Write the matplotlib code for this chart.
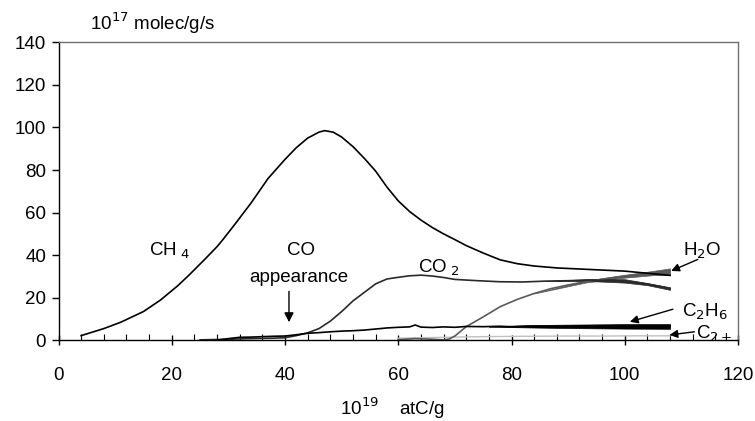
import matplotlib
matplotlib.use("Agg")
import matplotlib.pyplot as plt
from matplotlib.ticker import MultipleLocator

plt.rcParams['font.family'] = ['Liberation Sans', 'DejaVu Sans']

# values (x in 1e19 atC/g, y in 1e17 molec/g/s)
ch4_x = [4, 8, 11, 15, 18, 21, 23, 26, 28, 29, 31, 34, 37, 40, 42, 44, 46, 47,
         48.5, 50, 52, 54, 56, 58, 60, 62, 64, 66, 68, 70, 72, 75, 78, 81, 84,
         88, 92, 96, 100, 104, 108]
ch4_y = [2.2, 5.5, 8.5, 13.5, 18.9, 25.5, 30.5, 38.5, 44, 47.2, 54, 64.5, 76,
         85, 90.5, 95, 97.8, 98.5, 97.8, 95.5, 91, 85.5, 79.5, 72, 65.5, 60.5,
         56.5, 53, 50, 47.3, 44.5, 41, 37.8, 36, 34.9, 34, 33.5, 33, 32.5,
         31.5, 30.5]

co2_x = [25, 30, 34, 38, 40, 42, 44, 46, 48, 50, 52, 54, 56, 58, 60, 62, 64, 66,
         68, 70, 74, 78, 82, 86, 90, 94, 98, 102, 104, 106, 108]
co2_y = [0.2, 0.5, 0.8, 1.0, 1.2, 2.2, 3.5, 5.5, 9.0, 13.5, 18.5, 22.5, 26.5,
         28.8, 29.6, 30.3, 30.6, 30.2, 29.5, 28.6, 28.0, 27.5, 27.4, 27.8, 28.0,
         28.3, 28.0, 27.2, 26.4, 25.4, 24.3]

h2o_x = [60, 63, 66, 68, 69, 70, 72, 75, 78, 81, 84, 87, 90, 93, 96, 99, 102,
         105, 108]
h2o_y = [0.3, 0.8, 0.5, 0.2, 0.6, 2.0, 6.4, 11.0, 15.8, 19.2, 22.0, 24.3, 26.0,
         27.5, 28.7, 29.8, 30.8, 31.6, 32.2]

c2h6_x = [28, 30, 32, 34, 36, 38, 40, 42, 44, 46, 48, 50, 52, 54, 56, 58, 60,
          62, 63, 64, 66, 68, 70, 72, 75, 78, 80, 84, 88, 92, 96, 100, 104, 108]
c2h6_y = [0.0, 0.8, 1.4, 1.5, 1.7, 1.9, 2.0, 2.6, 3.3, 3.6, 4.0, 4.3, 4.5, 4.8,
          5.3, 5.8, 6.1, 6.3, 7.2, 6.2, 6.0, 6.3, 6.1, 6.5, 6.4, 6.6, 6.3, 6.6,
          6.5, 6.7, 6.5, 6.6, 6.4, 6.5]

c2p_x = [60, 66, 72, 78, 84, 90, 96, 102, 108]
c2p_y = [1.0, 1.3, 1.6, 1.8, 1.9, 2.0, 2.0, 2.1, 2.1]

# noise envelopes seen at the right end of the traces
c2h6_bx = [76, 84, 92, 100, 108]
c2h6_lo = [6.4, 6.0, 5.7, 5.5, 5.4]
c2h6_hi = [6.6, 7.2, 7.4, 7.6, 7.6]
h2o_bx = [84, 93, 99, 105, 108]
h2o_lo = [22.0, 27.1, 29.2, 30.6, 30.6]
h2o_hi = [22.0, 27.9, 30.4, 32.6, 33.8]
co2_bx = [86, 94, 100, 104, 108]
co2_lo = [27.8, 27.8, 27.1, 25.9, 23.7]
co2_hi = [27.8, 28.8, 28.7, 26.9, 24.9]

fig = plt.figure(figsize=(7.55, 4.21), dpi=100)
ax = fig.add_axes([0.0775, 0.1917, 0.9, 0.7078])

ax.plot(c2p_x, c2p_y, color='#c0c0c0', lw=1.0)
ax.plot(h2o_x, h2o_y, color='#5a5a5a', lw=1.2)
ax.fill_between(h2o_bx, h2o_lo, h2o_hi, color='#5a5a5a', lw=0.5)
ax.plot(co2_x, co2_y, color='#2a2a2a', lw=1.2)
ax.fill_between(co2_bx, co2_lo, co2_hi, color='#2a2a2a', lw=0.5)
ax.plot(c2h6_x, c2h6_y, color='black', lw=1.2)
ax.fill_between(c2h6_bx, c2h6_lo, c2h6_hi, color='black', lw=0.5)
ax.plot(ch4_x, ch4_y, color='black', lw=1.2)

ax.set_xlim(0, 120)
ax.set_ylim(0, 140)
ax.xaxis.set_major_locator(MultipleLocator(20))
ax.xaxis.set_minor_locator(MultipleLocator(4))
ax.yaxis.set_major_locator(MultipleLocator(20))

fs = 13.5
ax.tick_params(axis='x', which='major', direction='inout', length=6.5, width=1,
               labelsize=fs, pad=16, top=False)
ax.tick_params(axis='x', which='minor', direction='in', length=4, width=0.8, top=False)
ax.tick_params(axis='y', which='major', direction='out', length=5, width=1,
               labelsize=fs, pad=4, right=False)

for s in ['left', 'bottom']:
    ax.spines[s].set_color('black')
    ax.spines[s].set_linewidth(1.0)
for s in ['top', 'right']:
    ax.spines[s].set_color('#707070')
    ax.spines[s].set_linewidth(1.0)

ax.text(5.5, 149, r'10$^{17}$ molec/g/s', fontsize=fs, ha='left', va='center', clip_on=False)
ax.text(59, -32, r'10$^{19}$    atC/g', fontsize=fs, ha='center', va='center', clip_on=False)

ax.text(16, 42, r'CH$_{\ 4}$', fontsize=fs, ha='left', va='center')
ax.text(42.8, 42, 'CO', fontsize=fs, ha='center', va='center')
ax.text(42.5, 29.5, 'appearance', fontsize=fs, ha='center', va='center')
ax.annotate('', xy=(40.7, 8.5), xytext=(40.7, 23),
            arrowprops=dict(arrowstyle='-|>', color='black', lw=1.0,
                            mutation_scale=14, shrinkA=0, shrinkB=0))
ax.text(63.4, 34, r'CO$_{\ 2}$', fontsize=fs, ha='left', va='center')

ax.text(113.6, 42.2, r'H$_2$O', fontsize=fs, ha='center', va='center')
ax.text(114.2, 13.5, r'C$_2$H$_6$', fontsize=fs, ha='center', va='center')
ax.text(112.6, 3.2, r'C$_{2+}$', fontsize=fs, ha='left', va='center')

arrow_kw = dict(arrowstyle='-|>', color='black', lw=1.0, mutation_scale=12,
                shrinkA=0, shrinkB=0)
ax.annotate('', xy=(108.2, 32.6), xytext=(112.9, 38), arrowprops=arrow_kw)
ax.annotate('', xy=(100.9, 8.7), xytext=(108.5, 14.6), arrowprops=arrow_kw)
ax.annotate('', xy=(107.9, 2.5), xytext=(112.3, 4.0), arrowprops=arrow_kw)

fig.savefig('out.png', dpi=100)
